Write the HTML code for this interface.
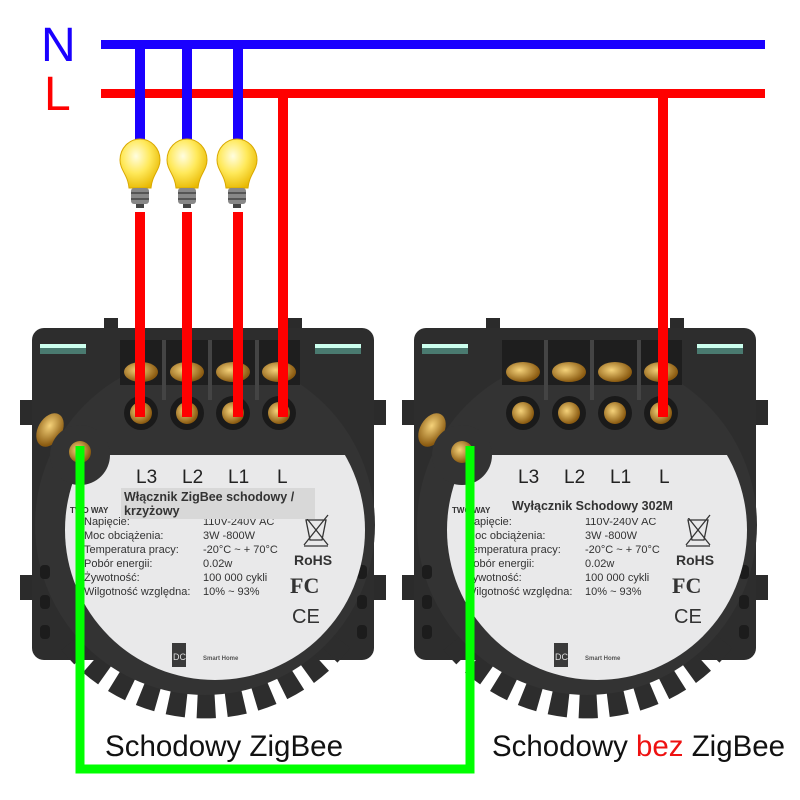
<!DOCTYPE html>
<html><head><meta charset="utf-8"><style>html,body{margin:0;padding:0;background:#fff}svg{display:block}</style></head>
<body>
<svg width="800" height="800" viewBox="0 0 800 800" xmlns="http://www.w3.org/2000/svg" font-family="Liberation Sans, sans-serif">
<defs>
<radialGradient id="bulb" cx="0.4" cy="0.35" r="0.7"><stop offset="0" stop-color="#fffde0"/><stop offset="0.5" stop-color="#ffe95a"/><stop offset="1" stop-color="#e8b800"/></radialGradient>
<radialGradient id="gold" cx="0.4" cy="0.4" r="0.6"><stop offset="0" stop-color="#f5d27a"/><stop offset="1" stop-color="#8a5a10"/></radialGradient>
<clipPath id="plateclip"><rect x="0" y="455" width="400" height="300"/></clipPath>
<g id="sw">
  <rect x="104" y="318" width="14" height="16" fill="#2b2b2b"/>
  <rect x="288" y="318" width="14" height="16" fill="#2b2b2b"/>
  <rect x="20" y="400" width="14" height="25" fill="#2b2b2b"/>
  <rect x="372" y="400" width="14" height="25" fill="#2b2b2b"/>
  <rect x="20" y="575" width="14" height="25" fill="#2b2b2b"/>
  <rect x="372" y="575" width="14" height="25" fill="#2b2b2b"/>
  <rect x="32" y="328" width="342" height="332" rx="12" fill="#2d2d2d"/>
  <path d="M340 640 A172 172 0 0 1 70 640" fill="none" stroke="#2d2d2d" stroke-width="26" stroke-dasharray="18 11"/>
  <rect x="40" y="344" width="46" height="10" fill="#4a7a70"/>
  <rect x="40" y="344" width="46" height="4" fill="#cfe"/>
  <rect x="315" y="344" width="46" height="10" fill="#4a7a70"/>
  <rect x="315" y="344" width="46" height="4" fill="#cfe"/>
  <circle cx="205" cy="525" r="170" fill="#333"/>
  <g fill="#1c1c1c"><rect x="40" y="595" width="10" height="14" rx="4"/><rect x="40" y="625" width="10" height="14" rx="4"/><rect x="40" y="565" width="10" height="14" rx="4"/><rect x="357" y="595" width="10" height="14" rx="4"/><rect x="357" y="625" width="10" height="14" rx="4"/><rect x="357" y="565" width="10" height="14" rx="4"/></g>
  <rect x="120" y="340" width="180" height="45" fill="#1e1e1e"/>
  <rect x="162" y="340" width="4" height="60" fill="#444"/>
  <rect x="208" y="340" width="4" height="60" fill="#444"/>
  <rect x="255" y="340" width="4" height="60" fill="#444"/>
  <ellipse cx="141" cy="372" rx="17" ry="10" fill="url(#gold)"/>
  <ellipse cx="187" cy="372" rx="17" ry="10" fill="url(#gold)"/>
  <ellipse cx="233" cy="372" rx="17" ry="10" fill="url(#gold)"/>
  <ellipse cx="279" cy="372" rx="17" ry="10" fill="url(#gold)"/>
  <circle cx="141" cy="413" r="17" fill="#1a1a1a"/><circle cx="141" cy="413" r="11" fill="url(#gold)"/>
  <circle cx="187" cy="413" r="17" fill="#1a1a1a"/><circle cx="187" cy="413" r="11" fill="url(#gold)"/>
  <circle cx="233" cy="413" r="17" fill="#1a1a1a"/><circle cx="233" cy="413" r="11" fill="url(#gold)"/>
  <circle cx="279" cy="413" r="17" fill="#1a1a1a"/><circle cx="279" cy="413" r="11" fill="url(#gold)"/>
  <ellipse cx="50" cy="430" rx="12" ry="18" fill="url(#gold)" transform="rotate(30 50 430)"/>
  <circle cx="215" cy="530" r="150" fill="#e9e9ea" clip-path="url(#plateclip)"/>
  <circle cx="80" cy="455" r="30" fill="#333"/>
  <circle cx="80" cy="452" r="11" fill="url(#gold)"/>
  <g fill="#222" font-size="19"><text x="136" y="483">L3</text><text x="182" y="483">L2</text><text x="228" y="483">L1</text><text x="277" y="483">L</text></g>
  <text x="70" y="513" font-size="8" font-weight="bold" fill="#333">TWO WAY</text>
  <g font-size="11" fill="#333">
    <text x="84" y="525">Napięcie:</text><text x="203" y="525">110V-240V AC</text>
    <text x="84" y="539">Moc obciążenia:</text><text x="203" y="539">3W -800W</text>
    <text x="84" y="553">Temperatura pracy:</text><text x="203" y="553">-20°C ~ + 70°C</text>
    <text x="84" y="567">Pobór energii:</text><text x="203" y="567">0.02w</text>
    <text x="84" y="581">Żywotność:</text><text x="203" y="581">100 000 cykli</text>
    <text x="84" y="595">Wilgotność względna:</text><text x="203" y="595">10% ~ 93%</text>
  </g>
  <g stroke="#333" stroke-width="1.3" fill="none"><path d="M306 520 L326 520 L322 540 L310 540 Z M304 515 L328 545 M328 515 L304 545"/><path d="M304 546 H328"/></g>
  <text x="294" y="565" font-size="14" font-weight="bold" fill="#333">RoHS</text>
  <text x="290" y="593" font-size="22" font-weight="bold" fill="#333" font-family="Liberation Serif, serif">FC</text>
  <text x="292" y="623" font-size="20" fill="#333">CE</text>
  <rect x="172" y="643" width="14" height="24" fill="#3a3a3a"/>
  <text x="173" y="660" font-size="9" fill="#ddd">DC</text>
  <text x="203" y="660" font-size="6" font-weight="bold" fill="#555">Smart Home</text>
</g>
</defs>

<text x="41" y="61" font-size="48" fill="#1a00ff">N</text>
<text x="44" y="110" font-size="48" fill="#ff0000">L</text>

<use href="#sw"/>
<use href="#sw" transform="translate(382,0)"/>

<rect x="121" y="488" width="194" height="31" fill="#d8d8d8"/>
<text x="124" y="501" font-size="12.5" font-weight="bold" fill="#333">Włącznik ZigBee schodowy /</text>
<text x="124" y="515" font-size="12.5" font-weight="bold" fill="#333">krzyżowy</text>
<rect x="505" y="496" width="190" height="22" fill="#e9e9ea"/>
<text x="512" y="510" font-size="12.5" font-weight="bold" fill="#333">Wyłącznik Schodowy 302M</text>

<rect x="101" y="40" width="664" height="9" fill="#1a00ff"/>
<rect x="101" y="89" width="664" height="9" fill="#ff0000"/>
<rect x="135" y="40" width="10" height="105" fill="#1a00ff"/>
<rect x="182" y="40" width="10" height="105" fill="#1a00ff"/>
<rect x="233" y="40" width="10" height="105" fill="#1a00ff"/>
<rect x="135" y="212" width="10" height="205" fill="#ff0000"/>
<rect x="182" y="212" width="10" height="205" fill="#ff0000"/>
<rect x="233" y="212" width="10" height="205" fill="#ff0000"/>
<rect x="278" y="89" width="10" height="328" fill="#ff0000"/>
<rect x="658" y="89" width="10" height="328" fill="#ff0000"/>

<g id="b1">
  <path d="M120 160 a20 21 0 1 1 40 0 c0 10 -8 15 -9 28 h-22 c-1 -13 -9 -18 -9 -28z" fill="url(#bulb)" stroke="#d9a800" stroke-width="1"/>
  <rect x="131" y="188" width="18" height="16" rx="3" fill="#888"/>
  <rect x="131" y="192" width="18" height="2" fill="#555"/><rect x="131" y="198" width="18" height="2" fill="#555"/>
  <rect x="136" y="204" width="8" height="4" fill="#444"/>
</g>
<use href="#b1" transform="translate(47,0)"/>
<use href="#b1" transform="translate(97,0)"/>

<path d="M80 446 V769 H470 V446" fill="none" stroke="#00ff00" stroke-width="9"/>

<text x="105" y="756" font-size="30" fill="#111" textLength="238" lengthAdjust="spacingAndGlyphs">Schodowy ZigBee</text>
<text x="492" y="756" font-size="30" fill="#111" textLength="293" lengthAdjust="spacingAndGlyphs">Schodowy <tspan fill="#ee1111">bez</tspan> ZigBee</text>
</svg>
</body></html>
